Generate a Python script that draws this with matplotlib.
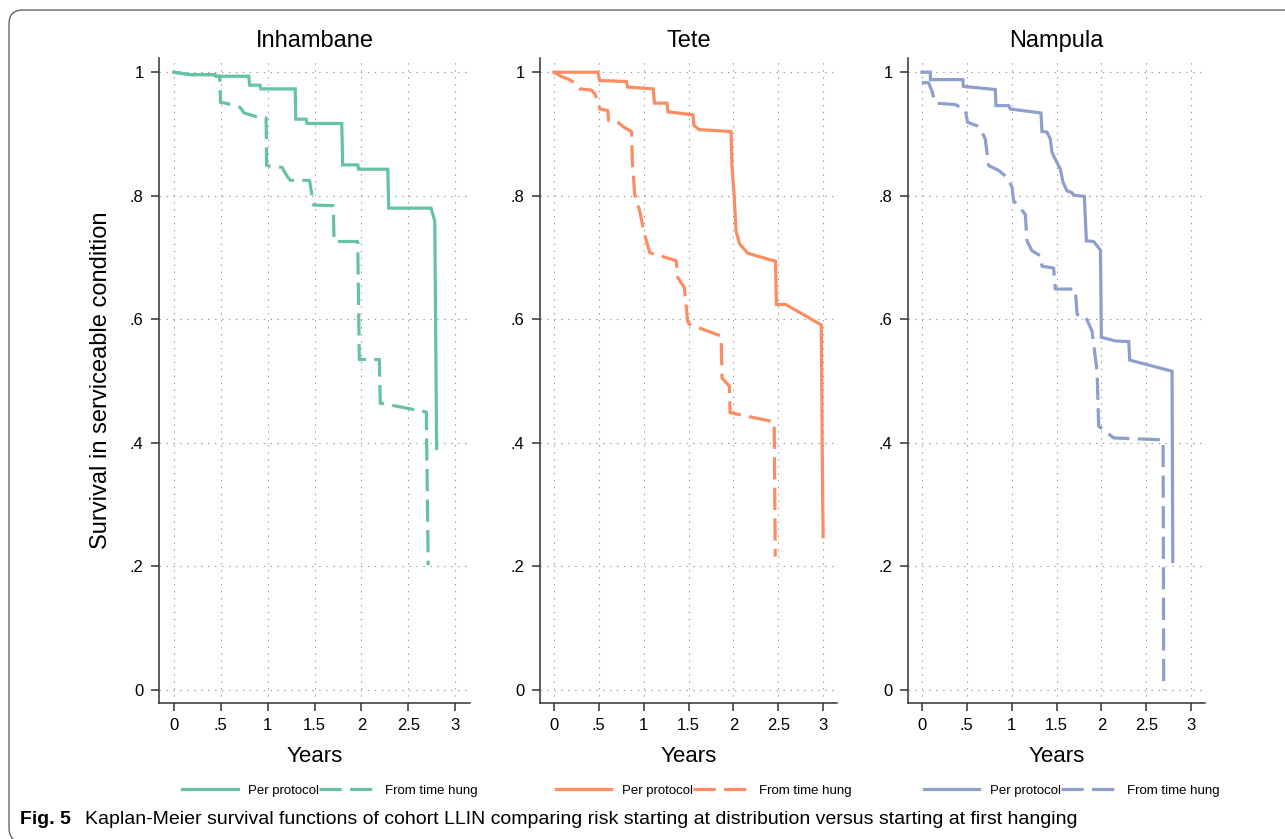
#!/usr/bin/env python3
#
# Kaplan-Meier survival of cohort LLIN: per protocol vs from time hung
#
import matplotlib
matplotlib.use('Agg')
import matplotlib.pyplot as plt
from matplotlib.patches import FancyBboxPatch

# data (year, survival) ---------------------------------------------------------
regions = ['Inhambane', 'Tete', 'Nampula']
colors = ['#66c2a5', '#fc8d62', '#8da0cb']
series_names = ['Per protocol', 'From time hung']

inh_pp_t = [0, 0.18, 0.44, 0.45, 0.80, 0.81, 0.92, 0.93, 1.295, 1.30, 1.41, 1.42,
            1.79, 1.80, 1.96, 1.97, 2.28, 2.29, 2.74, 2.78, 2.80]
inh_pp_s = [1.0, 0.996, 0.996, 0.9935, 0.9935, 0.979, 0.979, 0.973, 0.973, 0.924, 0.924, 0.917,
            0.917, 0.850, 0.850, 0.843, 0.843, 0.780, 0.780, 0.759, 0.391]
inh_fh_t = [0, 0.18, 0.44, 0.45, 0.49, 0.50, 0.55, 0.71, 0.75, 0.925, 0.985, 0.99,
            1.066, 1.154, 1.207, 1.242, 1.447, 1.49, 1.70, 1.708, 1.96, 1.977,
            2.19, 2.20, 2.22, 2.69, 2.71]
inh_fh_s = [1.0, 0.996, 0.996, 0.9935, 0.9935, 0.951, 0.950, 0.943, 0.934, 0.926, 0.926, 0.849,
            0.847, 0.846, 0.832, 0.825, 0.825, 0.785, 0.784, 0.726, 0.726, 0.535,
            0.535, 0.464, 0.464, 0.450, 0.202]

tet_pp_t = [0, 0.49, 0.51, 0.81, 0.82, 1.107, 1.12, 1.26, 1.27, 1.55, 1.56, 1.62, 1.974,
            1.985, 2.01, 2.03, 2.07, 2.16, 2.47, 2.48, 2.585, 2.98, 2.99, 3.0]
tet_pp_s = [1.0, 1.0, 0.9865, 0.985, 0.976, 0.973, 0.950, 0.950, 0.936, 0.931, 0.914, 0.907, 0.904,
            0.846, 0.797, 0.743, 0.722, 0.707, 0.694, 0.624, 0.624, 0.591, 0.394, 0.248]
tet_fh_t = [0, 0.085, 0.178, 0.25, 0.29, 0.42, 0.455, 0.49, 0.51, 0.60, 0.61, 0.70, 0.79,
            0.865, 0.874, 0.90, 0.955, 1.01, 1.067, 1.363, 1.38, 1.455, 1.49, 1.51,
            1.863, 1.874, 1.955, 1.963, 2.455, 2.467]
tet_fh_s = [1.0, 0.993, 0.9876, 0.981, 0.973, 0.971, 0.965, 0.954, 0.9405, 0.938, 0.9216, 0.9205, 0.91,
            0.904, 0.857, 0.803, 0.776, 0.738, 0.708, 0.695, 0.668, 0.651, 0.597, 0.592,
            0.573, 0.505, 0.492, 0.449, 0.434, 0.216]

nam_pp_t = [0, 0.093, 0.095, 0.457, 0.462, 0.818, 0.825, 0.967, 0.985, 1.327, 1.338, 1.394,
            1.431, 1.45, 1.487, 1.543, 1.572, 1.617, 1.673, 1.69, 1.81, 1.833, 1.914, 1.99,
            2.0, 2.156, 2.305, 2.316, 2.788, 2.796]
nam_pp_s = [1.0, 1.0, 0.988, 0.988, 0.977, 0.972, 0.946, 0.946, 0.9405, 0.934, 0.904, 0.903,
            0.892, 0.870, 0.859, 0.843, 0.822, 0.808, 0.805, 0.801, 0.799, 0.727, 0.726, 0.712,
            0.571, 0.565, 0.564, 0.534, 0.516, 0.208]
nam_fh_t = [0, 0.074, 0.111, 0.149, 0.372, 0.483, 0.509, 0.613, 0.669, 0.706, 0.743, 0.855,
            0.948, 1.004, 1.022, 1.152, 1.171, 1.227, 1.32, 1.338, 1.468, 1.487, 1.71, 1.729,
            1.822, 1.896, 1.952, 1.97, 2.138, 2.688, 2.695]
nam_fh_s = [0.983, 0.983, 0.970, 0.950, 0.9476, 0.939, 0.919, 0.9135, 0.903, 0.892, 0.849, 0.841,
            0.830, 0.814, 0.792, 0.770, 0.727, 0.711, 0.703, 0.686, 0.683, 0.649, 0.649, 0.608,
            0.605, 0.581, 0.516, 0.427, 0.408, 0.405, 0.0]

curves = [((inh_pp_t, inh_pp_s), (inh_fh_t, inh_fh_s)),
          ((tet_pp_t, tet_pp_s), (tet_fh_t, tet_fh_s)),
          ((nam_pp_t, nam_pp_s), (nam_fh_t, nam_fh_s))]

xticks = [0, 0.5, 1, 1.5, 2, 2.5, 3]
xticklabels = ['0', '.5', '1', '1.5', '2', '2.5', '3']
yticks = [0, 0.2, 0.4, 0.6, 0.8, 1.0]
yticklabels = ['0', '.2', '.4', '.6', '.8', '1']

# main -------------------------------------------------------------------------
def main():
    W, H = 1285, 839
    plt.rcParams['font.family'] = ['Liberation Sans', 'DejaVu Sans']
    plt.rcParams['lines.scale_dashes'] = False
    fig = plt.figure(figsize=(W / 100, H / 100), dpi=100)

    # axes boxes in pixels (left, right), top/bottom shared
    boxes = [(159, 470), (540, 837), (908, 1205)]
    top, bot = 58, 703

    for k, (name, col) in enumerate(zip(regions, colors)):
        l, r = boxes[k]
        ax = fig.add_axes((l / W, 1 - bot / H, (r - l) / W, (bot - top) / H))
        (pt, ps), (ft, fs) = curves[k]
        h1, = ax.plot(pt, ps, color=col, lw=2.3, solid_joinstyle='miter')
        h2, = ax.plot(ft, fs, color=col, lw=2.3, dashes=(16, 6))

        ax.set_xlim(-0.155, 3.155)
        ax.set_ylim(-0.021, 1.023)
        ax.set_xticks(xticks, xticklabels)
        ax.set_yticks(yticks, yticklabels)
        ax.grid(True, color='#999999', linestyle=(0, (1, 4)), lw=0.8)
        ax.set_axisbelow(True)
        for s in ('top', 'right'):
            ax.spines[s].set_visible(False)
        for s in ('left', 'bottom'):
            ax.spines[s].set_color('#333333')
            ax.spines[s].set_linewidth(1.1)
        ax.tick_params(length=6, width=1.1, color='#333333', labelsize=12, pad=5)
        ax.set_title(name, fontsize=17, pad=8)
        ax.set_xlabel('Years', fontsize=16, labelpad=9)
        if k == 0:
            ax.set_ylabel('Survival in serviceable condition', fontsize=17, labelpad=13)

        ax.legend([h1, h2], series_names, loc='center', bbox_to_anchor=(0.55, -0.136),
                  ncol=2, frameon=False, fontsize=9.5, handlelength=4.2,
                  handletextpad=0.8, columnspacing=0.0)

    # caption
    fig.text(20 / W, 1 - 820 / H, 'Fig. 5', fontsize=14, fontweight='bold', va='center')
    fig.text(85 / W, 1 - 820 / H,
             'Kaplan-Meier survival functions of cohort LLIN comparing risk starting at '
             'distribution versus starting at first hanging',
             fontsize=14, va='center')

    # frame round the figure
    frame = FancyBboxPatch((9, -3), 1400, H - 7, boxstyle='round,pad=0,rounding_size=14',
                           transform=None, fill=False, ec='#555555', lw=0.9)
    fig.add_artist(frame)

    fig.savefig('out.png', dpi=100)

if __name__ == '__main__':
    main()
